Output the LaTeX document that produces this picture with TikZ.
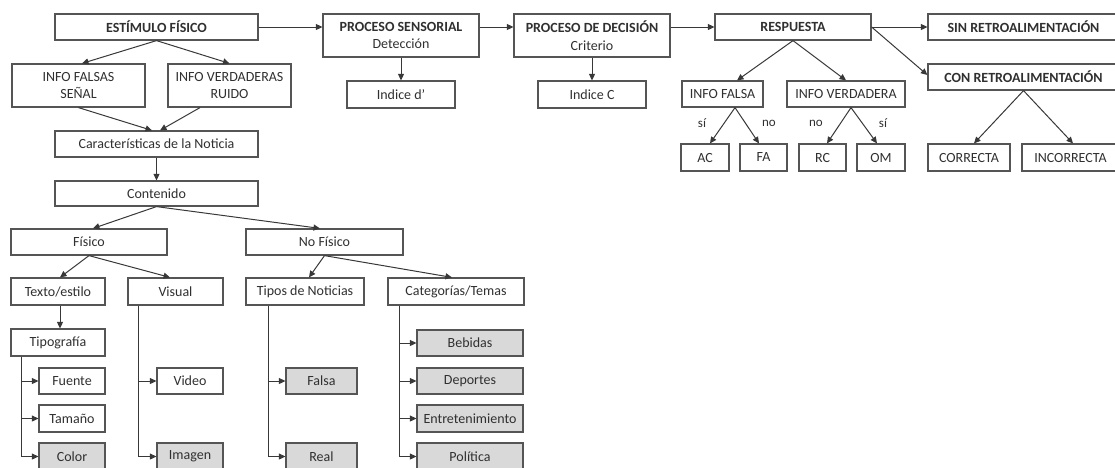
\documentclass[tikz,border=0pt]{standalone}
\usepackage{fontspec}
\setmainfont{Carlito}
\usetikzlibrary{arrows.meta,calc}
\definecolor{bordc}{HTML}{555555}
\definecolor{linec}{HTML}{383838}
\definecolor{txtc}{HTML}{303030}
\definecolor{grayf}{HTML}{D9D9D9}
\tikzset{
  box/.style={draw=bordc,line width=1.2pt,fill=white,inner sep=0pt,align=center,text=txtc,font=\fontsize{14}{17.5}\selectfont},
  gbox/.style={box,fill=grayf},
  bbox/.style={box,font=\fontsize{14}{17.5}\selectfont\bfseries},
  conn/.style={draw=linec,line width=1pt,-{Triangle[length=6.5pt,width=6pt]}},
  lab/.style={inner sep=0pt,text=txtc,font=\fontsize{13}{15}\selectfont}
}
\newcommand\mybox[7][box]{\node[#1,minimum width={(#4-#2)*1pt},minimum height={(#5-#3)*1pt}] (#6) at ({(#2+#4)/2},{(#3+#5)/2}) {#7};}
\begin{document}
\begin{tikzpicture}[x=1pt,y=-1pt]
\useasboundingbox (0,0) rectangle (1115,467);
\clip (0,0) rectangle (1115,467);
% top row
\mybox[bbox]{55}{14}{258}{40}{est}{ESTÍMULO FÍSICO}
\mybox[box]{323}{14}{479}{57}{sen}{\textbf{PROCESO SENSORIAL}\\Detección}
\mybox[box]{514}{14}{670}{57}{dec}{\textbf{PROCESO DE DECISIÓN}\\Criterio}
\mybox[bbox]{715}{14}{871}{40}{res}{RESPUESTA}
\mybox[bbox]{928}{14}{1119}{40}{sin}{SIN RETROALIMENTACIÓN}
\mybox[bbox]{928}{64}{1119}{90}{cre}{CON RETROALIMENTACIÓN}
% second row
\mybox{12}{64}{145}{107}{fal}{INFO FALSAS\\SEÑAL}
\mybox{168}{64}{291}{107}{ver}{INFO VERDADERAS\\RUIDO}
\mybox{347}{81}{455}{108}{idp}{Indice d’}
\mybox{538}{81}{646}{108}{idc}{Indice C}
\mybox{682}{81}{763}{107}{ifa}{INFO FALSA}
\mybox{787}{81}{905}{107}{ive}{INFO VERDADERA}
\mybox{681}{144}{729}{171}{ac}{AC}
\mybox{740}{144}{787}{171}{fa}{FA}
\mybox{799}{144}{846}{171}{rc}{RC}
\mybox{857}{144}{905}{171}{om}{OM}
\mybox{928}{144}{1010}{171}{cor}{CORRECTA}
\mybox{1022}{144}{1119}{171}{inc}{INCORRECTA}
\node[lab] (l1) at (702,123) {sí};
\node[lab] (l2) at (769,123) {no};
\node[lab] (l3) at (816,123) {no};
\node[lab] (l4) at (883,123) {sí};
% left tree
\mybox{55}{131}{258}{157}{car}{Características de la Noticia}
\mybox{55}{181}{258}{206}{con}{Contenido}
\mybox{11}{229}{167}{255}{fis}{Físico}
\mybox{246}{229}{403}{255}{nof}{No Físico}
\mybox{11}{278}{105}{305}{tex}{Texto/estilo}
\mybox{128}{278}{223}{305}{vis}{Visual}
\mybox{246}{278}{364}{305}{tip}{Tipos de Noticias}
\mybox{388}{278}{524}{305}{cat}{Categorías/Temas}
\mybox{11}{329}{105}{356}{typ}{Tipografía}
\mybox{39}{368}{105}{394}{fue}{Fuente}
\mybox{39}{405}{105}{432}{tam}{Tamaño}
\mybox[gbox]{39}{443}{105}{470}{col}{Color}
\mybox{157}{368}{223}{394}{vid}{Video}
\mybox[gbox]{157}{443}{223}{470}{ima}{Imagen}
\mybox[gbox]{286}{368}{357}{394}{fsa}{Falsa}
\mybox[gbox]{286}{443}{357}{470}{rea}{Real}
\mybox[gbox]{417}{330}{523}{356}{beb}{Bebidas}
\mybox[gbox]{417}{368}{523}{394}{dep}{Deportes}
\mybox[gbox]{417}{405}{523}{432}{ent}{Entretenimiento}
\mybox[gbox]{417}{443}{523}{470}{pol}{Política}
% connectors top row
\draw[conn] (est.east) -- (est.east -| sen.west);
\draw[conn] ([yshift=8.5pt]sen.east) -- (res.west -| dec.west);
\draw[conn] ([yshift=8.5pt]dec.east) -- (res.west);
\draw[conn] (res.east) -- (sin.west);
\draw[conn] (res.east) -- ([yshift=2pt]cre.west);
\draw[conn] (sen.south) -- (idp.north);
\draw[conn] (dec.south) -- (idc.north);
\draw[conn] (res.south) -- ([xshift=14.5pt]ifa.north);
\draw[conn] (res.south) -- (ive.north);
\draw[conn] ([xshift=12.5pt]ifa.south) -- ([xshift=5pt]ac.north);
\draw[conn] ([xshift=12.5pt]ifa.south) -- ([xshift=-4.5pt]fa.north);
\draw[conn] ([xshift=5pt]ive.south) -- ([xshift=4.5pt]rc.north);
\draw[conn] ([xshift=5pt]ive.south) -- ([xshift=-4pt]om.north);
\draw[conn] (cre.south) -- ([xshift=5pt]cor.north);
\draw[conn] (cre.south) -- ([xshift=2.5pt]inc.north);
% left tree connectors
\draw[conn] (est.south) -- ([xshift=3.5pt]fal.north);
\draw[conn] (est.south) -- (ver.north);
\draw[conn] (fal.south) -- ([xshift=-4.5pt]car.north);
\draw[conn] ([xshift=-29.5pt]ver.south) -- ([xshift=3.5pt]car.north);
\draw[conn] (car.south) -- (con.north);
\draw[conn] (con.south) -- ([xshift=4pt]fis.north);
\draw[conn] (con.south) -- ([xshift=-4.5pt]nof.north);
\draw[conn] (fis.south) -- ([xshift=2pt]tex.north);
\draw[conn] (fis.south) -- ([xshift=-5.5pt]vis.north);
\draw[conn] ([xshift=2pt]tex.south) -- ([xshift=2pt]typ.north);
\draw[conn] (nof.south) -- ([xshift=4pt]tip.north);
\draw[conn] (nof.south) -- ([xshift=-4pt]cat.north);
% trunks
\coordinate (t1) at ([xshift=11pt]typ.south west);
\coordinate (t2) at ([xshift=11pt]vis.south west);
\coordinate (t3) at ([xshift=23pt]tip.south west);
\coordinate (t4) at ([xshift=12pt]cat.south west);
\draw[conn] (t1) |- (col.west);
\draw[conn] (fue.west -| t1) -- (fue.west);
\draw[conn] (tam.west -| t1) -- (tam.west);
\draw[conn] (t2) |- (ima.west);
\draw[conn] (vid.west -| t2) -- (vid.west);
\draw[conn] (t3) |- (rea.west);
\draw[conn] (fsa.west -| t3) -- (fsa.west);
\draw[conn] (t4) |- (pol.west);
\draw[conn] (beb.west -| t4) -- (beb.west);
\draw[conn] (dep.west -| t4) -- (dep.west);
\draw[conn] (ent.west -| t4) -- (ent.west);
\end{tikzpicture}
\end{document}
